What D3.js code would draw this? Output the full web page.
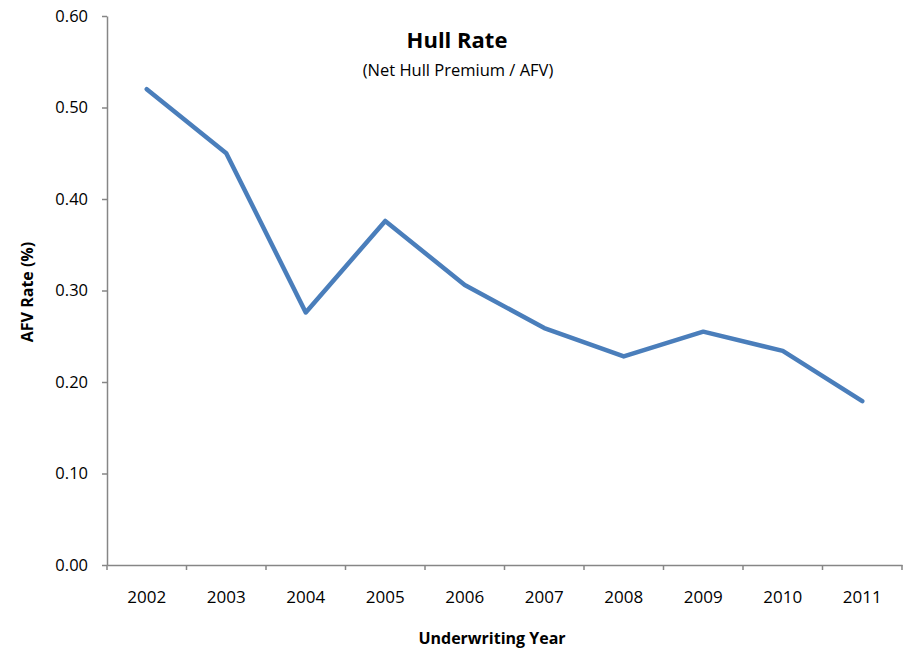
<!DOCTYPE html>
<html><head><meta charset="utf-8">
<script src="https://cdn.jsdelivr.net/npm/d3@7"></script>
<style>body{margin:0;background:#fff;}svg{display:block;font-family:"Open Sans",sans-serif;}</style>
</head><body>
<svg id="c" width="910" height="651"></svg>
<script>
const years = ["2002","2003","2004","2005","2006","2007","2008","2009","2010","2011"];
const rates = [0.52,0.45,0.276,0.376,0.306,0.259,0.228,0.255,0.234,0.179];
const yTicks = [0,0.1,0.2,0.3,0.4,0.5,0.6];

const svg = d3.select("#c");
const x = d3.scaleBand().domain(years).range([107,902]);
const y = d3.scaleLinear().domain([0,0.6]).range([565,16]);
const axisColor = "#868686";

// y axis
const ya = svg.append("g").attr("transform","translate(107,0)")
  .call(d3.axisLeft(y).tickValues(yTicks).tickFormat(d3.format(".2f")).tickSize(5).tickSizeOuter(0));
ya.select(".domain").attr("stroke",axisColor).attr("stroke-width",1.5);
ya.selectAll(".tick line").attr("stroke",axisColor).attr("stroke-width",1.5);
ya.selectAll(".tick text").attr("font-size",16.5).attr("fill","#000").attr("x",-19).attr("font-family","Open Sans, sans-serif");

// x axis
const xa = svg.append("g").attr("transform","translate(0,565)")
  .call(d3.axisBottom(x).tickSize(0).tickSizeOuter(0));
xa.select(".domain").attr("stroke",axisColor).attr("stroke-width",1.5);
xa.selectAll(".tick text").attr("font-size",17).attr("fill","#000").attr("dy",0).attr("y",38).attr("font-family","Open Sans, sans-serif");
// tick marks between categories
const bounds = years.map(d=>x(d)).concat([x.range()[1]]);
xa.selectAll(".sep").data(bounds).enter().append("line")
  .attr("x1",d=>d).attr("x2",d=>d).attr("y1",0).attr("y2",5)
  .attr("stroke",axisColor).attr("stroke-width",1.5);

// line
const line = d3.line().x((d,i)=>x(years[i])+x.bandwidth()/2).y(d=>y(d));
svg.append("path").datum(rates).attr("d",line)
  .attr("fill","none").attr("stroke","#4a7ebb").attr("stroke-width",4.5)
  .attr("stroke-linejoin","round").attr("stroke-linecap","round");

// titles
svg.append("text").attr("x",457).attr("y",48).attr("text-anchor","middle")
  .attr("font-size",22).attr("font-weight","bold").text("Hull Rate");
svg.append("text").attr("x",458).attr("y",76).attr("text-anchor","middle")
  .attr("font-size",16.5).text("(Net Hull Premium / AFV)");
svg.append("text").attr("x",492).attr("y",644).attr("text-anchor","middle")
  .attr("font-size",16).attr("font-weight","bold").text("Underwriting Year");
svg.append("text").attr("transform","translate(33,292) rotate(-90)").attr("text-anchor","middle")
  .attr("font-size",16).attr("font-weight","bold").text("AFV Rate (%)");
</script>
</body></html>
